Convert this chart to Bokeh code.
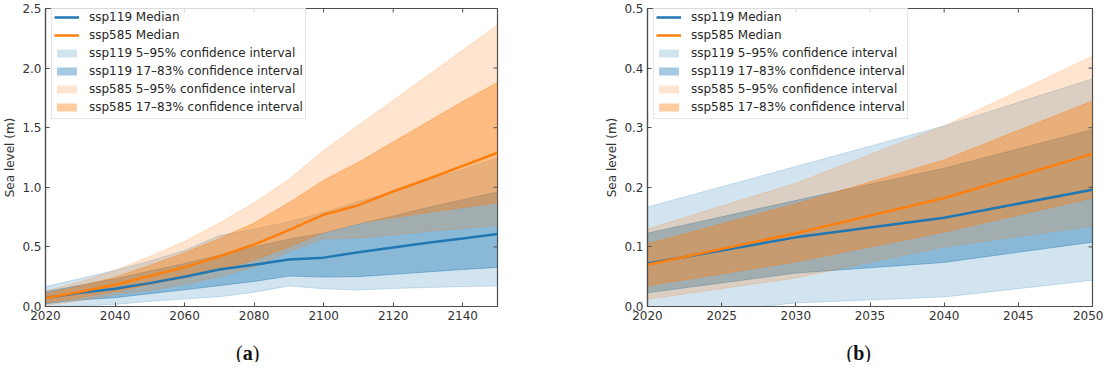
from bokeh.plotting import figure
from bokeh.models import (Range1d, LinearAxis, FixedTicker, PrintfTickFormatter,
                          Legend, LegendItem, Label, ColumnDataSource)
from bokeh.layouts import row, column
from bokeh.embed import file_html
from bokeh.resources import INLINE
import math

# ---------------- data (sea level, m) ----------------
years = [2020, 2030, 2040, 2050, 2060, 2070, 2080, 2090, 2100, 2110, 2120, 2130, 2140, 2150]

ssp119_median = [0.072, 0.116, 0.149, 0.196, 0.25, 0.31, 0.35, 0.395, 0.41, 0.455, 0.495, 0.535, 0.57, 0.608]
ssp119_p17 = [0.023, 0.056, 0.074, 0.108, 0.14, 0.175, 0.21, 0.255, 0.247, 0.25, 0.27, 0.29, 0.31, 0.328]
ssp119_p83 = [0.123, 0.178, 0.232, 0.297, 0.36, 0.43, 0.50, 0.565, 0.615, 0.69, 0.76, 0.83, 0.895, 0.96]
ssp119_p5 = [-0.02, 0.006, 0.016, 0.044, 0.062, 0.082, 0.12, 0.172, 0.148, 0.138, 0.15, 0.16, 0.167, 0.172]
ssp119_p95 = [0.167, 0.235, 0.303, 0.382, 0.47, 0.595, 0.65, 0.71, 0.79, 0.88, 0.97, 1.06, 1.15, 1.245]

ssp585_median = [0.070, 0.123, 0.182, 0.256, 0.33, 0.42, 0.52, 0.64, 0.77, 0.85, 0.965, 1.07, 1.18, 1.29]
ssp585_p17 = [0.035, 0.075, 0.125, 0.182, 0.24, 0.31, 0.39, 0.50, 0.62, 0.70, 0.745, 0.79, 0.83, 0.87]
ssp585_p83 = [0.105, 0.172, 0.246, 0.345, 0.45, 0.57, 0.70, 0.87, 1.06, 1.21, 1.38, 1.55, 1.72, 1.88]
ssp585_p5 = [0.012, 0.048, 0.10, 0.135, 0.185, 0.25, 0.33, 0.46, 0.567, 0.575, 0.60, 0.63, 0.655, 0.68]
ssp585_p95 = [0.130, 0.207, 0.303, 0.42, 0.545, 0.70, 0.87, 1.065, 1.31, 1.52, 1.73, 1.94, 2.15, 2.36]

labels = ["ssp119 Median", "ssp585 Median",
          "ssp119 5\u201395% confidence interval", "ssp119 17\u201383% confidence interval",
          "ssp585 5\u201395% confidence interval", "ssp585 17\u201383% confidence interval"]

xticks_a = [2020, 2040, 2060, 2080, 2100, 2120, 2140]
yticks_a = [0.0, 0.5, 1.0, 1.5, 2.0, 2.5]
xticks_b = [2020, 2025, 2030, 2035, 2040, 2045, 2050]
yticks_b = [0.0, 0.1, 0.2, 0.3, 0.4, 0.5]

BLUE = "#1f77b4"
ORANGE = "#ff7f0e"
FRAME = "#4d4d4d"
TXT = "#333333"
FONT = "DejaVu Sans"


def style_axis(ax, ticks, fmt):
    ax.ticker = FixedTicker(ticks=ticks)
    ax.formatter = PrintfTickFormatter(format=fmt)
    ax.axis_line_color = FRAME
    ax.axis_line_width = 1.2
    ax.major_tick_line_color = FRAME
    ax.major_tick_line_width = 1
    ax.major_tick_in = 4
    ax.major_tick_out = 0
    ax.minor_tick_line_color = None
    ax.major_label_text_font = FONT
    ax.major_label_text_color = TXT
    ax.major_label_text_font_size = "12px"
    ax.major_label_standoff = 4


def make_panel(n, xr, yr, xticks, yticks, width, left, right):
    src = ColumnDataSource(dict(
        x=years[:n],
        m119=ssp119_median[:n], l17_119=ssp119_p17[:n], u83_119=ssp119_p83[:n],
        l5_119=ssp119_p5[:n], u95_119=ssp119_p95[:n],
        m585=ssp585_median[:n], l17_585=ssp585_p17[:n], u83_585=ssp585_p83[:n],
        l5_585=ssp585_p5[:n], u95_585=ssp585_p95[:n],
    ))
    p = figure(width=width, height=336, x_range=Range1d(*xr), y_range=Range1d(*yr),
               output_backend="svg", toolbar_location=None,
               x_axis_type=None, y_axis_type=None,
               min_border_left=left, min_border_right=right,
               min_border_top=8, min_border_bottom=30)
    p.grid.visible = False
    p.outline_line_color = FRAME
    p.outline_line_width = 1.2
    p.background_fill_color = "white"
    p.border_fill_color = "white"

    def band(lo, hi, color, alpha):
        r = p.varea(x="x", y1=lo, y2=hi, source=src, fill_color=color, fill_alpha=alpha)
        p.line(x="x", y=lo, source=src, line_color=color, line_alpha=alpha, line_width=1)
        p.line(x="x", y=hi, source=src, line_color=color, line_alpha=alpha, line_width=1)
        return r

    r1 = band("l5_119", "u95_119", BLUE, 0.2)
    r2 = band("l17_119", "u83_119", BLUE, 0.4)
    r3 = band("l5_585", "u95_585", ORANGE, 0.2)
    r4 = band("l17_585", "u83_585", ORANGE, 0.4)
    m1 = p.line(x="x", y="m119", source=src, line_color=BLUE, line_width=2.5)
    m2 = p.line(x="x", y="m585", source=src, line_color=ORANGE, line_width=2.5)

    # inward ticks on the top and right spines (half of each dash is clipped by the frame)
    p.scatter(x=xticks, y=[yr[1]] * len(xticks), marker="dash", angle=math.pi / 2,
              size=8, line_color=FRAME, line_width=1)
    p.scatter(x=[xr[1]] * len(yticks), y=yticks, marker="dash",
              size=8, line_color=FRAME, line_width=1)

    bx = LinearAxis(); style_axis(bx, xticks, "%d")
    ly = LinearAxis(); style_axis(ly, yticks, "%.1f")
    ly.axis_label = "Sea level (m)"
    ly.axis_label_text_font = FONT
    ly.axis_label_text_font_size = "12px"
    ly.axis_label_text_font_style = "normal"
    ly.axis_label_text_color = TXT
    ly.axis_label_standoff = 2
    p.add_layout(bx, "below")
    p.add_layout(ly, "left")

    legend = Legend(items=[
        LegendItem(label=labels[0], renderers=[m1]),
        LegendItem(label=labels[1], renderers=[m2]),
        LegendItem(label=labels[2], renderers=[r1]),
        LegendItem(label=labels[3], renderers=[r2]),
        LegendItem(label=labels[4], renderers=[r3]),
        LegendItem(label=labels[5], renderers=[r4]),
    ], location=(6, 187), padding=2, spacing=0,
        glyph_width=25, glyph_height=10, label_height=18, label_standoff=10,
        label_text_font=FONT, label_text_font_size="12px", label_text_color="#262626",
        border_line_color="#cccccc", border_line_width=1,
        background_fill_color="white", background_fill_alpha=0.8)
    p.add_layout(legend)
    return p


def make_caption(width, letter, start):
    c = figure(width=width, height=26, x_range=Range1d(0, width), y_range=Range1d(0, 26),
               output_backend="svg", toolbar_location=None,
               x_axis_type=None, y_axis_type=None, min_border=0)
    c.grid.visible = False
    c.outline_line_color = None
    c.background_fill_color = "white"
    c.border_fill_color = "white"
    lw = 10 if letter == "a" else 11
    for t, st, dx in [("(", "normal", 0), (letter, "bold", 6.7), (")", "normal", 6.7 + lw)]:
        c.add_layout(Label(x=start + dx, y=10, text=t,
                           text_font="Liberation Serif", text_font_size="20px",
                           text_font_style=st, text_color="#111111",
                           text_align="left", text_baseline="middle"))
    return c


pa = make_panel(14, (2020, 2150), (0, 2.5), xticks_a, yticks_a, 532, 37, 35)
pb = make_panel(4, (2020, 2050), (0, 0.5), xticks_b, yticks_b, 571, 115, 11)
ca = make_caption(532, "a", 235.5)
cb = make_caption(571, "b", 314)

layout = column(row(pa, pb), row(ca, cb))
open("out.html", "w").write(file_html(layout, INLINE))
